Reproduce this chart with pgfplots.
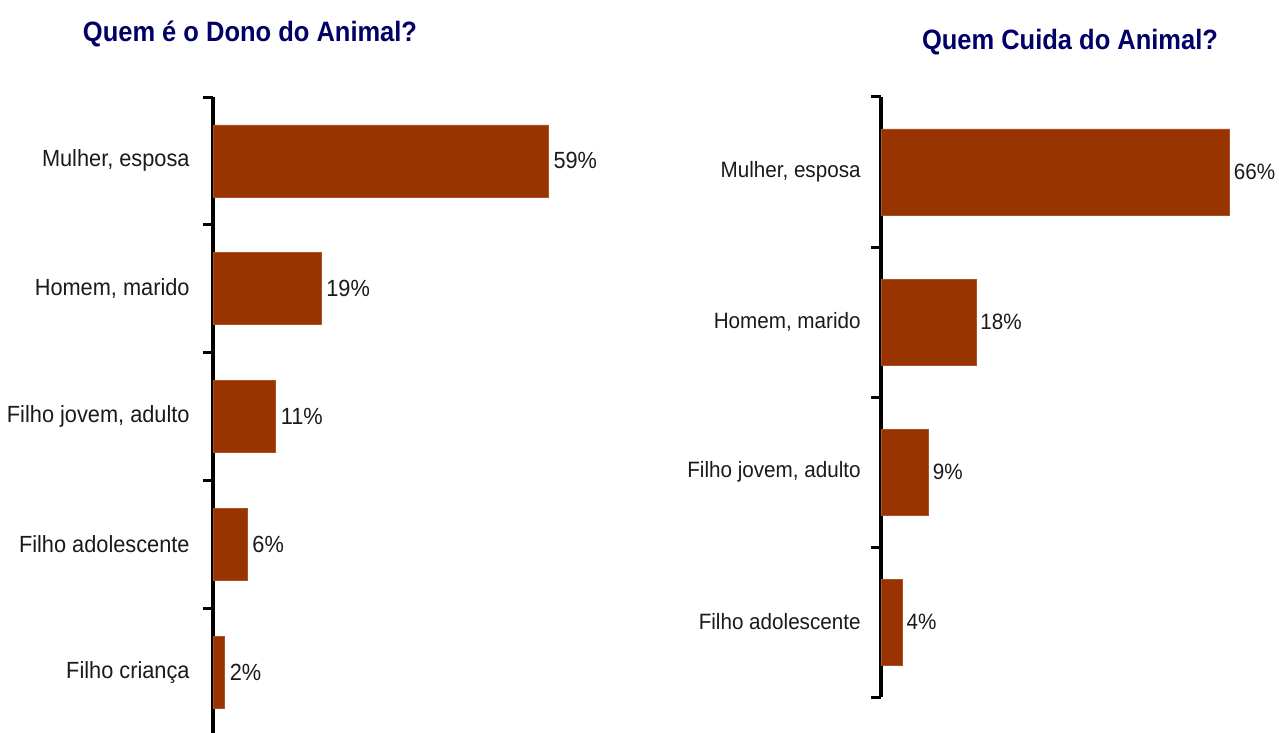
\documentclass[border=0pt]{standalone}
\usepackage{fontspec}
\setmainfont{Liberation Sans}[FakeStretch=0.93]
\newfontfamily\titlefont{Liberation Sans}[FakeStretch=0.91]
\usepackage{pgfplots}
\pgfplotsset{compat=1.18}
\definecolor{barc}{HTML}{993300}
\definecolor{titc}{HTML}{000066}
\definecolor{txt}{HTML}{1A1A1A}
\pgfplotsset{
  mybars/.style={
    scale only axis, clip=false, anchor=south west,
    xbar, xmin=0, ymin=-0.5,
    /pgf/number format/assume math mode=true,
    axis x line=none, axis y line=left,
    every outer y axis line/.append style={-},
    y axis line style={-, line width=1.75pt, black},
    xtick=\empty, ytick pos=left, tick align=outside,
    major tick length=0pt,
    extra y tick style={major tick length=5pt, tick style={line width=1.5pt, black}},
    point meta=x,
    nodes near coords={\pgfmathprintnumber{\pgfplotspointmeta}\%},
  }
}
\begin{document}
\begin{tikzpicture}
\path[use as bounding box] (0,0) rectangle (639.5pt,-366.5pt);
\clip (0,0) rectangle (639.5pt,-366.5pt);
\node[anchor=base, font=\titlefont\bfseries\fontsize{14pt}{16pt}\selectfont, text=titc] at (125pt,-21pt) {Quem é o Dono do Animal?};
\node[anchor=base, font=\titlefont\bfseries\fontsize{14pt}{16pt}\selectfont, text=titc] at (535pt,-24.75pt) {Quem Cuida do Animal?};
\begin{axis}[mybars,
  at={(106.5pt,-368pt)}, width=170.4pt, height=319.5pt,
  xmax=60, ymax=4.5, bar width=36pt,
  ytick={0,1,2,3,4},
  yticklabels={Filho criança, Filho adolescente, {Filho jovem, adulto}, {Homem, marido}, {Mulher, esposa}},
  yticklabel style={font=\fontsize{11.7pt}{14pt}\selectfont, text=txt, inner sep=0pt, xshift=-11.5pt},
  nodes near coords style={font=\fontsize{11.7pt}{14pt}\selectfont, text=txt, anchor=west, inner sep=0pt, xshift=2.5pt},
  extra y ticks={-0.5,0.5,1.5,2.5,3.5,4.5}, extra y tick labels={},
]
\addplot[fill=barc, draw=barc!85!white] coordinates {(59,4) (19,3) (11,2) (6,1) (2,0)};
\end{axis}
\begin{axis}[mybars,
  at={(440.5pt,-348.5pt)}, width=184.8pt, height=300pt,
  xmax=70, ymax=3.5, bar width=43pt,
  ytick={0,1,2,3},
  yticklabels={Filho adolescente, {Filho jovem, adulto}, {Homem, marido}, {Mulher, esposa}},
  yticklabel style={font=\fontsize{11.1pt}{13pt}\selectfont, text=txt, inner sep=0pt, xshift=-10pt},
  nodes near coords style={font=\fontsize{11.1pt}{13pt}\selectfont, text=txt, anchor=west, inner sep=0pt, xshift=2pt},
  extra y ticks={-0.5,0.5,1.5,2.5,3.5}, extra y tick labels={},
]
\addplot[fill=barc, draw=barc!85!white] coordinates {(66,3) (18,2) (9,1) (4,0)};
\end{axis}
\end{tikzpicture}
\end{document}
